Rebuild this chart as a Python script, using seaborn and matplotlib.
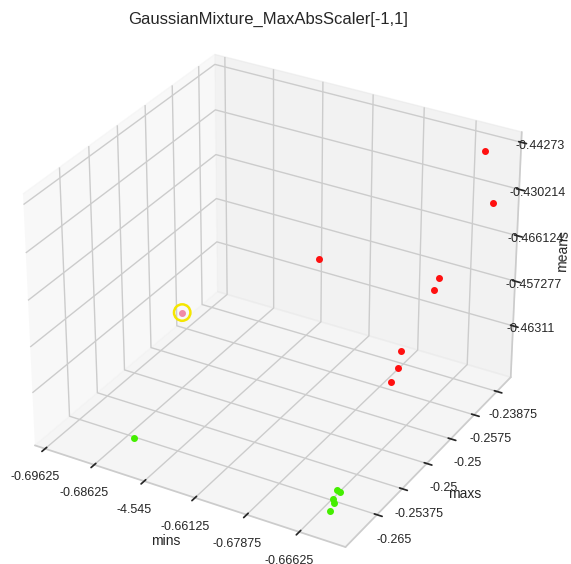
import numpy as np
import matplotlib
matplotlib.use("Agg")
import matplotlib.pyplot as plt
import seaborn as sns

# tick labels as shown on the chart (one per grid position)
mins_labels = ["-0.69625", "-0.68625", "-4.545", "-0.66125", "-0.67875", "-0.66625"]
maxs_labels = ["-0.265", "-0.25375", "-0.25", "-0.25", "-0.2575", "-0.23875"]
means_labels = ["-0.46311", "-0.457277", "-0.466124", "-0.430214", "-0.44273"]

# points in grid-index units (x = mins, y = maxs, z = means)
red_x = [5.45, 5.64, 3.22, 5.28, 5.25, 4.80, 5.02, 5.12]
red_y = [5.00, 5.02, 3.05, 3.59, 3.46, 3.12, 2.56, 2.04]
red_z = [3.97, 2.91, 1.90, 1.87, 1.67, 0.37, 0.35, 0.35]

green_x = [1.52, 5.31, 5.38, 5.37, 5.45, 5.50]
green_y = [-0.71, -0.41, -0.44, -0.70, -0.81, -1.07]
green_z = [-0.67, -0.61, -0.61, -0.61, -0.61, -0.61]

pink_x = [0.10]
pink_y = [3.66]
pink_z = [-0.59]

sns.set_theme(style="whitegrid")
plt.rcParams['font.family'] = ['Liberation Sans', 'DejaVu Sans']

fig = plt.figure(figsize=(5.71, 5.64), dpi=100)
ax = fig.add_axes([-0.021, -0.0257, 0.986, 0.998], projection='3d')
ax.set_box_aspect((4, 4, 3.216))

ax.scatter(red_x, red_y, red_z, color='#ff1010', s=16, depthshade=False)
ax.scatter(green_x, green_y, green_z, color='#44ee00', s=16, depthshade=False)
ax.scatter(pink_x, pink_y, pink_z, color='#f08aa8', s=16, depthshade=False)
ax.scatter(pink_x, pink_y, pink_z, facecolors='none', edgecolors='#f5e600',
           s=140, linewidths=1.8, depthshade=False)

ax.set_xlim(-0.21, 5.865)
ax.set_ylim(-1.21, 5.62)
ax.set_zlim(-1.17, 4.217)

ax.set_xticks(np.arange(len(mins_labels)))
ax.set_xticklabels(mins_labels, fontsize=9)
ax.set_yticks(np.arange(len(maxs_labels)))
ax.set_yticklabels(maxs_labels, fontsize=9)
ax.set_zticks(np.arange(len(means_labels)))
ax.set_zticklabels(means_labels, fontsize=9)
ax.tick_params(axis='z', pad=0.2)

for axis in (ax.xaxis, ax.yaxis, ax.zaxis):
    axis._axinfo['tick']['color'] = '#333333'
    axis._axinfo['grid']['color'] = '#cccccc'

ax.set_xlabel('mins', fontsize=10, labelpad=2)
ax.set_ylabel('maxs', fontsize=10, labelpad=1.3)
ax.set_zlabel('means', fontsize=10, labelpad=0)
fig.text(0.469, 1 - 19 / 564, 'GaussianMixture_MaxAbsScaler[-1,1]',
         fontsize=12, ha='center', va='center', color='#262626')

plt.savefig('out.png', dpi=100)
